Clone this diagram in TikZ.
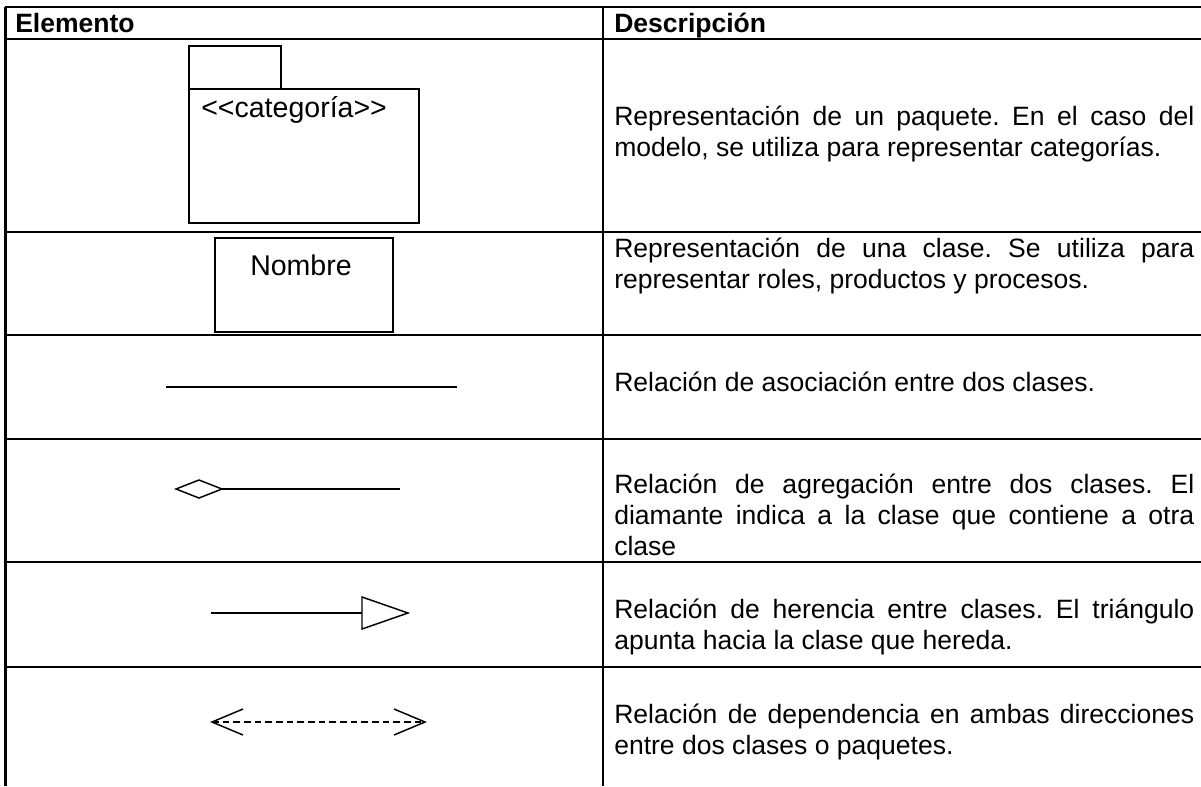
\documentclass[tikz,border=0pt]{standalone}
\usepackage{fontspec}
\setmainfont{Liberation Sans}
\usetikzlibrary{positioning}
\hyphenpenalty=10000
\exhyphenpenalty=10000
\tolerance=9999
\frenchspacing

% estilos de la tabla
\tikzset{
  tabla/.style={line width=1.9pt},
  figura/.style={line width=1.1pt},
  texto/.style={anchor=base west,inner sep=0pt,text width=435pt,align=justify,
    font=\fontsize{19.9pt}{23.6pt}\selectfont},
  cabecera/.style={anchor=base west,inner sep=0pt,font=\fontsize{19.9pt}{23.6pt}\selectfont\bfseries},
  etiqueta/.style={inner sep=0pt,font=\fontsize{21.4pt}{24pt}\selectfont}
}

\begin{document}
\begin{tikzpicture}[x=0.75pt,y=-0.75pt]
\useasboundingbox (0,0) rectangle (1201,786);

% lineas de la tabla
\foreach \yy in {7,39,232,335,439,562,667}
  \draw[tabla] (5,\yy) -- (1201,\yy);
\draw[tabla] (5.5,7) -- (5.5,786);
\draw[tabla] (603,7) -- (603,786);

% cabeceras
\node[cabecera] (elem) at (15,32) {Elemento};
\node[cabecera] (desc) at (614,32) {Descripción};

% paquete
\draw[figura] (189,46) rectangle (281,89);
\draw[figura] (189,89) rectangle (419,223);
\node[etiqueta,anchor=base west] (cat) at (201,117) {<\kern0pt<categoría>\kern0pt>};

% clase
\draw[figura] (215,238) rectangle (393,332);
\node[etiqueta,anchor=base] (nom) at (301,275) {Nombre};

% asociacion
\coordinate (asA) at (166,387);
\coordinate (asB) at (457,387);
\draw[figura] (asA) -- (asB);

% agregacion
\coordinate (agA) at (176,489);
\coordinate (agB) at (222,489);
\coordinate (agC) at (400,489);
\draw[figura] (agA) -- (199,480) -- (agB) -- (199,498) -- cycle;
\draw[figura] (agB) -- (agC);

% herencia
\coordinate (heA) at (211,613);
\coordinate (heB) at (362,613);
\draw[figura] (heA) -- (heB);
\draw[figura] (heB) -- (362,597) -- (408,613) -- (362,629) -- cycle;

% dependencia
\coordinate (deA) at (212,722);
\coordinate (deB) at (425,722);
\draw[figura,dash pattern=on 5pt off 3pt] (deA) -- (deB);
\draw[figura] (243,709) -- (deA) -- (243,735);
\draw[figura] (394,709) -- (deB) -- (394,735);

% descripciones
\node[texto] (d1) at (614,125) {Representación de un paquete. En el caso del modelo, se utiliza para representar categorías.};
\node[texto] (d2) at (614,257) {Representación de una clase. Se utiliza para representar roles, productos y procesos.};
\node[texto] (d3) at (614,391) {Relación de asociación entre dos clases.};
\node[texto] (d4) at (614,493) {Relación de agregación entre dos clases. El diamante indica a la clase que contiene a otra clase};
\node[texto] (d5) at (614,618) {Relación de herencia entre clases. El triángulo apunta hacia la clase que hereda.};
\node[texto] (d6) at (614,723) {Relación de dependencia en ambas direcciones entre dos clases o paquetes.};
\end{tikzpicture}
\end{document}
